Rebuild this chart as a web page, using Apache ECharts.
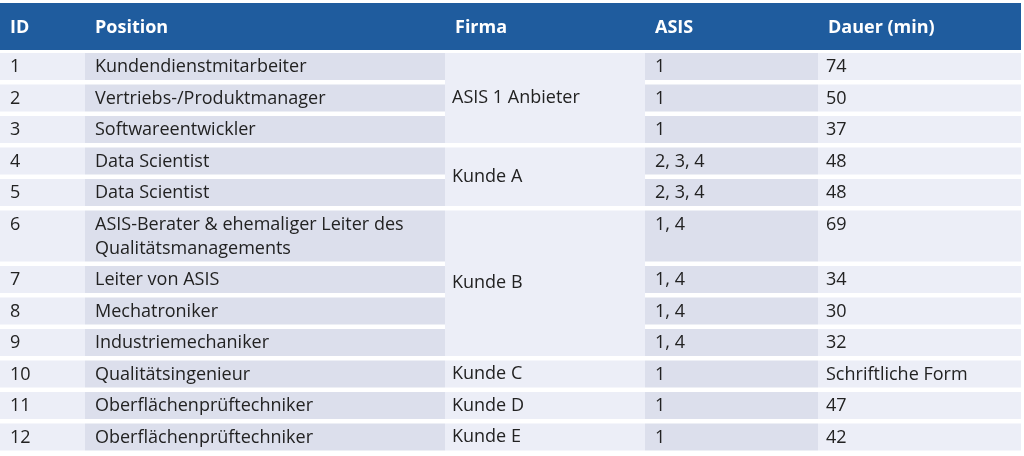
<!DOCTYPE html>
<html><head><meta charset="utf-8">
<script src="https://cdn.jsdelivr.net/npm/echarts@6/dist/echarts.min.js"></script>
<style>html,body{margin:0;padding:0;background:#fff}#c{width:1024px;height:456px}</style>
</head><body><div id="c"></div>
<script>
const headers = ['ID','Position','Firma','ASIS','Dauer (min)'];
const ids = ['1','2','3','4','5','6','7','8','9','10','11','12'];
const positions = ['Kundendienstmitarbeiter','Vertriebs-/Produktmanager','Softwareentwickler','Data Scientist','Data Scientist','ASIS-Berater & ehemaliger Leiter des\nQualitätsmanagements','Leiter von ASIS','Mechatroniker','Industriemechaniker','Qualitätsingenieur','Oberflächenprüftechniker','Oberflächenprüftechniker'];
const asis = ['1','1','1','2, 3, 4','2, 3, 4','1, 4','1, 4','1, 4','1, 4','1','1','1'];
const dauer = ['74','50','37','48','48','69','34','30','32','Schriftliche Form','47','42'];
const rowLines = [1,1,1,1,1,2,1,1,1,1,1,1];
const firmaNames = ['ASIS 1 Anbieter','Kunde A','Kunde B','Kunde C','Kunde D','Kunde E'];
const firmaStart = [0,3,5,9,10,11];
const firmaEnd = [2,4,8,9,10,11];

// layout
const colEdges = [0,85,445,645,818,1021];
const colFill = ['#eceef7','#dcdfec','#eceef7','#dcdfec','#eceef7'];
const headTop = 3, headBot = 50, firstTop = 53, baseH = 27, lineH = 24, gap = 4.5;
const tops = [], bots = [];
let y = firstTop;
rowLines.forEach(n => { const h = baseH + (n-1)*lineH; tops.push(y); bots.push(y+h); y += h + gap; });
const FONT = '"Open Sans", "Noto Sans", sans-serif';

function rect(api, x0, y0, x1, y1, fill){
  const a = api.coord([x0,y0]), b = api.coord([x1,y1]);
  return {type:'rect', shape:{x:a[0], y:a[1], width:b[0]-a[0], height:b[1]-a[1]}, style:{fill}};
}
function txt(api, x, yv, s, opt){
  const p = api.coord([x,yv]);
  return {type:'text', x:p[0], y:p[1], style:Object.assign({text:s, fill:'#222', font:'18px '+FONT, textVerticalAlign:'top', lineHeight:lineH}, opt||{})};
}

const option = {
  animation:false,
  grid:{left:0,right:0,top:0,bottom:0},
  xAxis:{type:'value',min:0,max:1024,show:false},
  yAxis:{type:'value',min:0,max:456,inverse:true,show:false},
  series:[
    {type:'custom', data:[0], renderItem:(p,api)=>{
      const ch=[rect(api,colEdges[0],headTop,colEdges[5],headBot,'#1f5c9e')];
      headers.forEach((h,i)=>ch.push(txt(api,colEdges[i]+10,headTop+13,h,{fill:'#fff',font:'bold 18px '+FONT})));
      return {type:'group',children:ch};
    }},
    {type:'custom', data:ids.map((_,i)=>i), renderItem:(p,api)=>{
      const i = api.value(0), t = tops[i], b = bots[i], ch=[];
      [0,1,3,4].forEach(c=>ch.push(rect(api,colEdges[c],t,colEdges[c+1],b,colFill[c])));
      const ty = t+2;
      ch.push(txt(api,colEdges[0]+10,ty,ids[i]));
      ch.push(txt(api,colEdges[1]+10,ty,positions[i]));
      ch.push(txt(api,colEdges[3]+10,ty,asis[i]));
      ch.push(txt(api,colEdges[4]+8,ty,dauer[i]));
      return {type:'group',children:ch};
    }},
    {type:'custom', data:firmaNames.map((_,i)=>i), renderItem:(p,api)=>{
      const g = api.value(0), t = tops[firmaStart[g]], b = bots[firmaEnd[g]];
      return {type:'group',children:[
        rect(api,colEdges[2],t,colEdges[3],b,colFill[2]),
        txt(api,colEdges[2]+7,(t+b)/2,firmaNames[g],{textVerticalAlign:'middle'})
      ]};
    }}
  ]
};
echarts.init(document.getElementById('c')).setOption(option);
</script></body></html>
